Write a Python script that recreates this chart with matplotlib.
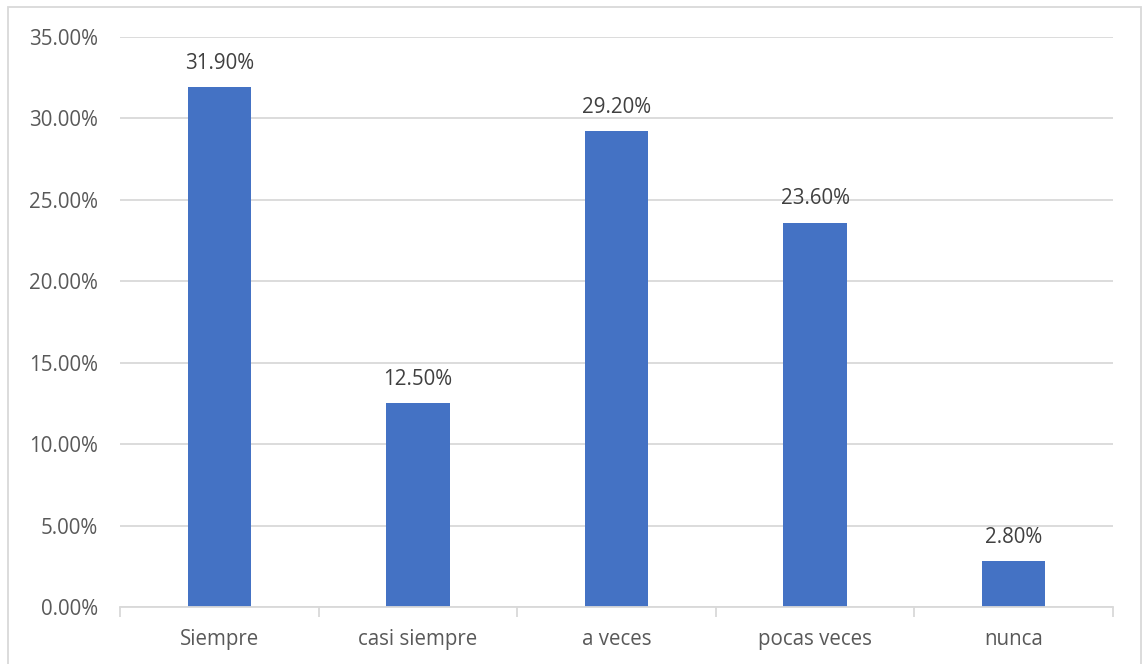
import matplotlib
matplotlib.use("Agg")
import matplotlib.pyplot as plt
from matplotlib.patches import Rectangle
from matplotlib.ticker import FuncFormatter, MultipleLocator

categories = ["Siempre", "casi siempre", "a veces", "pocas veces", "nunca"]
values = [31.90, 12.50, 29.20, 23.60, 2.80]
labels = ["31.90%", "12.50%", "29.20%", "23.60%", "2.80%"]

plt.rcParams['font.family'] = ['Open Sans', 'DejaVu Sans']

W, H = 1143, 664
fig = plt.figure(figsize=(W / 100, H / 100), dpi=100)
ax = fig.add_axes([120 / W, 1 - 607 / H, (1113 - 120) / W, (607 - 37) / H])

x = list(range(len(categories)))
bars = ax.bar(x, values, width=0.32, color="#4472C4", zorder=3)

ax.set_xlim(-0.5, len(categories) - 0.5)
ax.set_ylim(0, 35)
ax.yaxis.set_major_locator(MultipleLocator(5))
ax.yaxis.set_major_formatter(FuncFormatter(lambda v, p: f"{v:.2f}%"))
ax.grid(axis="y", color="#D9D9D9", linewidth=1.3, zorder=0)
ax.set_axisbelow(True)

for s in ["top", "right", "left"]:
    ax.spines[s].set_visible(False)
ax.spines["bottom"].set_color("#D9D9D9")
ax.spines["bottom"].set_linewidth(1.3)
ax.spines["bottom"].set_zorder(4)

fs = 14.8
ax.set_xticks(x)
ax.set_xticklabels(categories)
ax.set_xticks([i - 0.5 for i in range(len(categories) + 1)], minor=True)
ax.tick_params(axis="x", which="major", length=0, pad=16, labelsize=fs, labelcolor="#595959")
ax.tick_params(axis="x", which="minor", length=7, width=1.3, color="#D9D9D9")
ax.tick_params(axis="y", length=0, pad=16, labelsize=fs, labelcolor="#595959")

for xi, v, lab in zip(x, values, labels):
    ax.annotate(lab, (xi, v), xytext=(0, 10), textcoords="offset points",
                ha="center", va="bottom", fontsize=fs, color="#404040")

fig.patches.append(Rectangle((8 / W, -0.05), (1141 - 8) / W, 1 - 7 / H + 0.05,
                             transform=fig.transFigure, fill=False,
                             edgecolor="#D9D9D9", linewidth=1.3))

fig.savefig("out.png", dpi=100, facecolor="white")
